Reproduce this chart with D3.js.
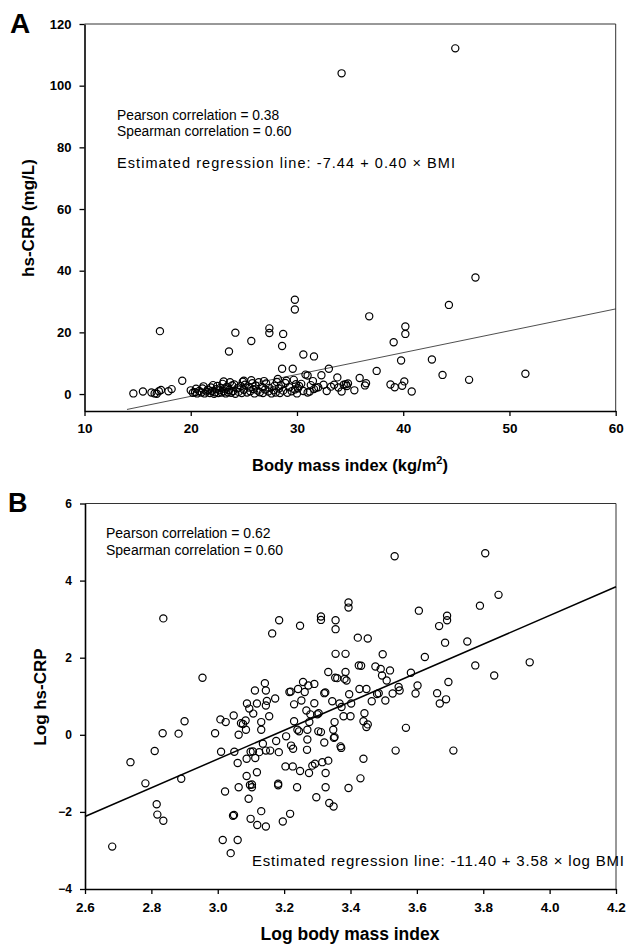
<!DOCTYPE html>
<html>
<head>
<meta charset="utf-8">
<script src="https://cdn.jsdelivr.net/npm/d3@7"></script>
<style>
  body { margin: 0; background: #fff; }
  svg { display: block; font-family: "Liberation Sans", Arial, sans-serif; }
</style>
</head>
<body>
<svg id="chart" width="630" height="945"></svg>
<script>
// panel A: BMI vs hs-CRP
var bmiA = [34.2,44.9,46.8,44.3,29.8,29.8,36.8,17.1,24.2,27.4,27.4,28.7,25.7,23.6,28.6,40.2,40.2,39.1,39.8,42.7,
  30.6,31.6,28.6,29.6,33.0,37.5,43.7,46.2,51.5,40.8,34.2,35.4,35.9,36.5,36.4,38.8,39.2,39.9,40.1,33.8,
  32.3,30.8,31.0,32.5,33.2,34.6,34.8,34.4,31.0,31.2,31.6,31.8,28.2,29.0,29.9,30.1,19.2,18.2,17.9,14.6,
  15.5,16.3,16.6,17.0,16.8,17.2,
  20.0,20.2,20.4,20.5,20.6,20.8,21.0,21.1,21.2,21.3,21.5,21.6,21.8,21.9,22.0,22.1,22.2,22.3,22.4,22.5,
  22.6,22.7,22.8,22.9,23.0,23.1,23.1,23.2,23.3,23.4,23.5,23.6,23.7,23.8,23.9,24.0,24.1,24.2,24.4,24.5,
  24.7,24.8,24.9,25.0,25.0,25.1,25.3,25.5,25.6,25.7,25.8,25.9,26.0,26.1,26.3,26.4,26.5,26.7,26.8,26.9,
  27.0,27.1,27.3,27.4,27.6,27.8,27.9,28.0,28.1,28.3,28.4,28.5,28.7,28.9,29.1,29.3,29.5,29.7,29.8,30.0,
  30.2,30.4,30.6,31.3,31.5,32.0,32.8,33.5,33.9,34.7];
var crpA = [104.0,112.1,37.8,28.9,30.6,27.4,25.2,20.4,19.9,21.3,19.8,19.5,17.2,13.8,15.6,21.9,19.5,16.8,10.9,11.2,
  12.8,12.2,8.2,8.2,8.2,7.5,6.2,4.6,6.6,0.8,0.8,1.2,5.2,3.5,2.8,3.1,2.2,2.7,4.1,5.4,
  6.1,6.3,6.0,3.0,2.4,3.2,3.4,3.0,0.5,0.8,1.6,2.0,4.9,4.3,3.2,1.9,4.3,1.6,0.9,0.2,
  0.8,0.5,0.2,0.9,0.1,1.3,
  1.2,0.4,0.6,1.7,0.2,1.0,0.5,1.8,2.5,0.2,0.8,1.4,0.3,2.1,1.0,2.9,0.1,0.6,1.6,2.6,
  0.3,1.2,2.0,0.5,3.3,0.9,4.1,1.7,0.2,2.4,0.6,1.3,3.8,0.4,2.8,1.0,3.1,0.1,1.9,0.7,
  2.6,0.3,4.0,1.4,4.3,3.0,0.5,2.1,0.9,4.5,3.5,1.6,0.2,2.8,1.1,3.8,0.6,2.3,0.3,4.2,
  1.5,3.4,0.8,2.0,0.2,1.2,2.7,0.5,3.9,1.8,0.3,2.9,1.1,3.6,0.4,2.2,0.9,4.6,1.5,0.2,
  2.6,3.3,1.0,2.9,4.2,2.2,1.0,3.0,2.1,2.6];

// panel B: log BMI vs log hs-CRP
var logBmiB = [2.836,3.533,3.806,3.846,3.790,3.606,3.394,3.394,3.311,3.311,3.355,3.355,3.185,3.248,3.164,3.422,3.452,3.691,3.691,3.667,
  3.685,3.752,3.355,3.385,3.497,3.624,3.940,3.776,3.833,2.954,3.425,3.432,3.475,3.491,3.519,3.495,3.509,3.582,3.333,3.385,
  3.354,3.360,3.382,3.388,3.257,3.291,3.273,3.142,3.145,3.112,3.242,3.216,3.220,3.262,3.427,3.448,3.485,3.480,3.545,3.602,
  3.548,3.596,3.527,3.661,3.695,3.688,3.669,3.173,3.088,3.118,3.095,3.148,3.145,3.107,3.155,3.230,3.252,3.267,3.291,3.321,
  3.324,3.345,3.367,3.373,3.396,3.402,3.464,3.505,3.442,3.379,3.400,3.279,3.300,3.304,3.230,3.276,3.048,3.008,3.024,3.070,
  3.076,3.084,3.131,3.131,3.085,3.063,2.992,2.900,2.834,2.882,3.240,3.245,3.270,3.303,3.311,3.348,3.352,3.352,3.452,3.448,
  3.567,3.010,3.050,3.060,3.087,3.099,3.106,3.113,3.125,3.145,3.136,3.158,3.176,3.184,3.206,3.221,3.227,3.270,3.269,3.321,
  3.350,3.370,3.372,3.439,3.536,3.710,2.737,2.810,2.782,2.890,2.816,2.818,2.836,2.682,3.022,3.046,3.049,3.015,3.060,3.039,
  3.063,3.087,3.097,3.103,3.103,3.093,3.099,3.119,3.118,3.131,3.145,3.182,3.182,3.196,3.218,3.204,3.226,3.248,3.239,3.275,
  3.285,3.293,3.315,3.333,3.325,3.325,3.297,3.336,3.349,3.394,3.430,3.439];
var logCrpB = [3.02,4.63,4.71,3.63,3.35,3.22,3.43,3.30,3.07,2.98,2.97,2.74,2.97,2.83,2.63,2.52,2.50,3.09,2.97,2.82,
  2.39,2.42,2.10,2.10,2.09,2.02,1.88,1.80,1.54,1.48,1.80,1.79,1.77,1.71,1.67,1.54,1.41,1.61,1.63,1.63,
  1.48,1.47,1.45,1.41,1.37,1.32,1.28,1.34,1.15,1.15,1.19,1.11,1.12,1.11,1.19,1.19,1.08,1.06,1.24,1.28,
  1.15,1.07,1.07,1.08,1.37,0.92,0.81,0.94,0.81,0.81,0.68,0.88,0.76,0.55,0.48,0.79,0.89,0.63,0.82,1.08,
  1.10,0.87,0.81,0.72,1.05,0.81,0.87,0.89,0.56,0.48,0.48,0.53,0.53,0.56,0.35,0.33,0.50,0.40,0.33,0.30,
  0.28,0.37,0.33,0.13,0.13,0.00,0.04,0.35,0.04,0.03,0.13,0.09,0.13,0.09,0.07,0.13,-0.06,0.33,0.27,0.20,
  0.18,-0.44,-0.44,-0.73,-0.62,-0.44,-0.43,-0.60,-0.45,-0.41,-0.23,-0.41,-0.16,-0.45,-0.04,-0.28,-0.36,-0.12,-0.39,-0.20,
  -0.08,-0.30,-0.34,-0.62,-0.41,-0.41,-0.71,-0.42,-1.26,-1.14,-1.80,-2.07,-2.23,-2.90,-1.47,-2.10,-2.08,-2.73,-2.73,-3.07,
  -1.36,-1.07,-1.30,-1.36,-1.29,-1.66,-2.18,-2.34,-0.97,-1.98,-2.38,-1.27,-1.31,-2.25,-2.05,-0.82,-0.82,-0.94,-1.36,-0.99,
  -0.80,-0.75,-0.71,-0.67,-0.99,-1.36,-1.62,-1.77,-1.86,-1.38,-1.13,0.35];

// fitted lines as drawn in the figure
var lineAX = [14, 60], lineAY = [-5.0, 27.6];
var lineBX = [2.6, 4.2], lineBY = [-2.12, 3.84];

var ticksAX = [10, 20, 30, 40, 50, 60];
var ticksAY = [0, 20, 40, 60, 80, 100, 120];
var ticksBX = [2.6, 2.8, 3.0, 3.2, 3.4, 3.6, 3.8, 4.0, 4.2];
var ticksBY = [-4, -2, 0, 2, 4, 6];

var notesA = ["Pearson correlation = 0.38", "Spearman correlation = 0.60"];
var regA = "Estimated regression line: -7.44 + 0.40 \u00d7 BMI";
var notesB = ["Pearson correlation = 0.62", "Spearman correlation = 0.60"];
var regB = "Estimated regression line: -11.40 + 3.58 \u00d7 log BMI";

function panel(svg, o)
{
    var g = svg.append("g");
    var x = d3.scaleLinear().domain(o.xDomain).range([o.left, o.right]),
        y = d3.scaleLinear().domain(o.yDomain).range([o.bottom, o.top]);

    // top and right frame
    g.append("path")
      .attr("d", "M" + o.left + "," + o.top + "H" + o.right + "V" + o.bottom)
      .attr("fill", "none").attr("stroke", "#333").attr("stroke-width", 1);

    var ax = g.append("g").attr("transform", "translate(0," + o.bottom + ")")
      .call(d3.axisBottom(x).tickValues(o.xTicks).tickFormat(o.xFmt)
        .tickSize(5).tickSizeOuter(0).tickPadding(o.xPad));
    var ay = g.append("g").attr("transform", "translate(" + o.left + ",0)")
      .call(d3.axisLeft(y).tickValues(o.yTicks).tickFormat(d3.format("d"))
        .tickSize(5).tickSizeOuter(0).tickPadding(8));
    [ax, ay].forEach(function(a) {
      a.select(".domain").attr("stroke", "#000").attr("stroke-width", 1.6);
      a.selectAll(".tick line").attr("stroke", "#000").attr("stroke-width", 1.3);
      a.selectAll("text").attr("fill", "#000").attr("font-weight", "bold")
        .attr("font-family", "Liberation Sans, Arial, sans-serif");
    });
    ax.selectAll("text").attr("font-size", o.xFont);
    ay.selectAll("text").attr("font-size", o.yFont);

    g.append("line")
      .attr("x1", x(o.lineX[0])).attr("y1", y(o.lineY[0]))
      .attr("x2", x(o.lineX[1])).attr("y2", y(o.lineY[1]))
      .attr("stroke", o.lineColor).attr("stroke-width", o.lineWidth);

    g.selectAll("circle.pt").data(o.xs).enter().append("circle")
      .attr("class", "pt")
      .attr("cx", function(d) { return x(d); })
      .attr("cy", function(d, i) { return y(o.ys[i]); })
      .attr("r", 3.6)
      .attr("fill", "none").attr("stroke", "#000").attr("stroke-width", 1.2);

    return {x: x, y: y, g: g};
}

function draw()
{
    var svg = d3.select("#chart");

    var A = panel(svg, {
      xDomain: [10, 60], yDomain: [-5.5, 120],
      left: 84.5, right: 615.7, top: 24, bottom: 411,
      xTicks: ticksAX, yTicks: ticksAY, xFmt: d3.format("d"),
      xPad: 7, xFont: 13.5, yFont: 13,
      xs: bmiA, ys: crpA,
      lineX: lineAX, lineY: lineAY, lineColor: "#222", lineWidth: 0.8
    });

    var B = panel(svg, {
      xDomain: [2.6, 4.2], yDomain: [-4, 6],
      left: 85, right: 616, top: 503.5, bottom: 889,
      xTicks: ticksBX, yTicks: ticksBY, xFmt: d3.format(".1f"),
      xPad: 8, xFont: 13.5, yFont: 12,
      xs: logBmiB, ys: logCrpB,
      lineX: lineBX, lineY: lineBY, lineColor: "#000", lineWidth: 1.5
    });

    // panel letters
    svg.append("text").attr("x", 10).attr("y", 33).text("A")
      .attr("font-size", 28).attr("font-weight", "bold");
    svg.append("text").attr("x", 8).attr("y", 512).text("B")
      .attr("font-size", 27).attr("font-weight", "bold");

    // annotations
    notesA.forEach(function(t, i) {
      A.g.append("text").attr("x", 117).attr("y", 119.5 + i * 16).text(t).attr("font-size", 13.8);
    });
    A.g.append("text").attr("x", 117).attr("y", 168).text(regA).attr("font-size", 14.5)
      .attr("textLength", 338).attr("lengthAdjust", "spacing");

    notesB.forEach(function(t, i) {
      B.g.append("text").attr("x", 106).attr("y", 538 + i * 16.5).text(t).attr("font-size", 14);
    });
    B.g.append("text").attr("x", 252).attr("y", 866).text(regB).attr("font-size", 15)
      .attr("textLength", 372).attr("lengthAdjust", "spacing");

    // axis titles
    var tA = svg.append("text").attr("x", 350).attr("y", 471)
      .attr("text-anchor", "middle").attr("font-size", 16.5).attr("font-weight", "bold");
    tA.append("tspan").text("Body mass index (kg/m");
    tA.append("tspan").text("2").attr("font-size", 11).attr("dy", -7);
    tA.append("tspan").text(")").attr("dy", 7);

    svg.append("text").attr("transform", "translate(34,218) rotate(-90)")
      .attr("text-anchor", "middle").attr("font-size", 17).attr("font-weight", "bold")
      .text("hs-CRP (mg/L)");

    svg.append("text").attr("x", 350).attr("y", 940)
      .attr("text-anchor", "middle").attr("font-size", 17.5).attr("font-weight", "bold")
      .text("Log body mass index");

    svg.append("text").attr("transform", "translate(46,697) rotate(-90)")
      .attr("text-anchor", "middle").attr("font-size", 17).attr("font-weight", "bold")
      .text("Log hs-CRP");
}

draw();
</script>
</body>
</html>
